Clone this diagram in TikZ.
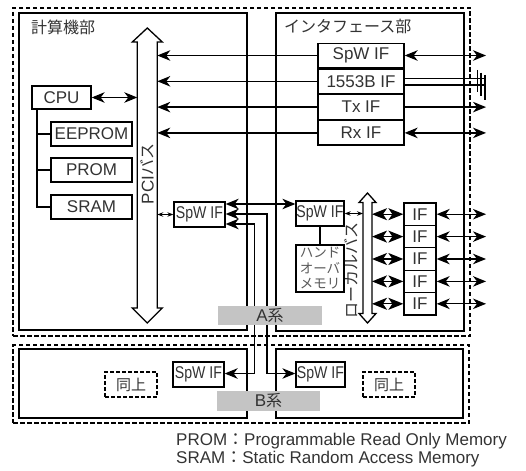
\documentclass[tikz,border=0pt]{standalone}
\usepackage{fontspec}
\usepackage{graphicx}
\setmainfont{Liberation Sans}
\newfontfamily\jp{Noto Sans CJK JP}
\usetikzlibrary{arrows.meta}
\begin{document}
\begin{tikzpicture}[x=1pt,y=-1pt,
  lw/.style={line width=1.3pt},
  box/.style={draw, line width=1.3pt, inner sep=0pt, fill=white, text=black!80, font=\fontsize{17}{19}\selectfont},
  dbox/.style={draw, line width=1.3pt, dash pattern=on 4.5pt off 2.5pt, inner sep=0pt},
  jptxt/.style={inner sep=0pt, text=black!80, font=\jp\fontsize{16}{18}\selectfont},
  tip/.style={},
  ar/.style={line width=1.3pt, -{Stealth[length=13pt,width=10.5pt,inset=4pt]}},
  ar2/.style={line width=1.3pt, {Stealth[length=13pt,width=10.5pt,inset=4pt]}-{Stealth[length=13pt,width=10.5pt,inset=4pt]}},
  sar2/.style={line width=1pt, {Stealth[length=6pt,width=4.5pt,inset=2pt]}-{Stealth[length=6pt,width=4.5pt,inset=2pt]}},
  bigar2/.style={line width=1.3pt, {Stealth[length=15pt,width=12pt,inset=4pt]}-{Stealth[length=15pt,width=12pt,inset=4pt]}},
  graybox/.style={fill=black!23, inner sep=0pt, text=black!80, font=\fontsize{17}{19}\selectfont},
  bus/.style={line width=1.3pt, fill=white}
]
\useasboundingbox (0,0) rectangle (526,470);

% dashed outer groups
\node[dbox, minimum width=457pt, minimum height=328pt] (dA) at (241.5,172) {};
\node[dbox, minimum width=456pt, minimum height=78pt] (dB) at (241,384) {};

% main boxes
\node[box, minimum width=228pt, minimum height=317pt] (comp) at (133,171.5) {};
\node[box, minimum width=188pt, minimum height=318pt] (intf) at (370,172) {};
\node[box, minimum width=228pt, minimum height=69pt] (compB) at (133,383.5) {};
\node[box, minimum width=187pt, minimum height=69pt] (intfB) at (369.5,383.5) {};
\node[jptxt, anchor=west] (t1) at (31,27) {計算機部};
\node[jptxt, anchor=west] (t2) at (284,26) {インタフェース部};

% PCI bus
\draw[bus] (147.3,28) -- (162.3,42) -- (157.3,42) -- (157.3,308) -- (162.3,308) -- (147.3,323)
  -- (132.3,308) -- (137.3,308) -- (137.3,42) -- (132.3,42) -- cycle;
\coordinate (pciL) at (137.3,0);
\coordinate (pciR) at (157.3,0);
\node[inner sep=0pt, rotate=90, text=black!80, font=\fontsize{17}{19}\selectfont] (pcilabel) at (147.3,174) {PCI{\jp\fontsize{16}{18}\selectfont バス}};

% local bus
\draw[bus] (367.5,193) -- (376,202.5) -- (372,202.5) -- (372,313.5) -- (376,313.5) -- (367.5,323)
  -- (359,313.5) -- (363,313.5) -- (363,202.5) -- (359,202.5) -- cycle;
\coordinate (lbL) at (363,0);
\coordinate (lbR) at (372,0);
\node[jptxt, rotate=90] (lblabel) at (351,270) {ローカルバス};

% computer side
\node[box, minimum width=59pt, minimum height=23pt] (cpu) at (61.5,97.5) {CPU};
\node[box, minimum width=81pt, minimum height=24pt] (eeprom) at (91.5,134) {EEPROM};
\node[box, minimum width=81pt, minimum height=24pt] (prom) at (91.5,170) {PROM};
\node[box, minimum width=81pt, minimum height=24pt] (sram) at (91.5,207) {SRAM};
\coordinate (trunk) at (37,109);
\draw[lw] (trunk) |- (sram.west);
\draw[lw] (trunk |- eeprom.west) -- (eeprom.west);
\draw[lw] (trunk |- prom.west) -- (prom.west);
\draw[ar2] (cpu.east) -- (cpu.east -| pciL);

% interface side upper boxes
\node[box, minimum width=86pt, minimum height=24.5pt] (spw) at (361,55.5) {SpW IF};
\node[box, minimum width=86pt, minimum height=24.5pt] (b1553) at (361,81.3) {1553B IF};
\node[box, minimum width=86pt, minimum height=24.5pt] (tx) at (361,107.1) {Tx IF};
\node[box, minimum width=86pt, minimum height=24.5pt] (rx) at (361,132.9) {Rx IF};
\draw[ar] (spw.west) -- (spw.west -| pciR);
\draw[ar] (b1553.west) -- (b1553.west -| pciR);
\draw[ar] (tx.west) -- (tx.west -| pciR);
\draw[ar] (rx.west) -- (rx.west -| pciR);
\coordinate (ext) at (486,0);
\draw[ar2] (spw.east) -- (spw.east -| ext);
\draw[ar] (tx.east) -- (tx.east -| ext);
\draw[ar2] (rx.east) -- (rx.east -| ext);
\coordinate (g1) at (485,78.3);
\coordinate (g2) at (485,85);
\draw[lw] (b1553.east |- g1) -- (g1);
\draw[lw] (b1553.east |- g2) -- (g2);
\draw[lw] (477.3,70) -- (477.3,92);
\draw[lw] (481,72.7) -- (481,96);
\draw[lw] (485,75) -- (485,100);

% SpW IF nodes
\node[box, minimum width=51pt, minimum height=25pt] (sA) at (199.5,214.5) {\scalebox{0.83}[1]{SpW IF}};
\node[box, minimum width=48pt, minimum height=25pt] (sAr) at (320,213.5) {\scalebox{0.83}[1]{SpW IF}};
\node[box, minimum width=48pt, minimum height=47pt, align=left, font=\jp\fontsize{13.5}{15.5}\selectfont, text=black!65] (hom) at (320,268.5) {ハンド\\オーバ\\メモリ};
\draw[lw] (sAr.south) -- (hom.north);
\draw[sar2] (pciR |- sA.west) -- (sA.west);
\draw[sar2] (sAr.east) -- (sAr.east -| lbL);

\node[box, minimum width=51pt, minimum height=25pt] (sBl) at (198.5,374.5) {\scalebox{0.83}[1]{SpW IF}};
\node[box, minimum width=49pt, minimum height=25pt] (sBr) at (320.5,374.5) {\scalebox{0.83}[1]{SpW IF}};
\node[dbox, line width=1.2pt, dash pattern=on 4pt off 2pt, minimum width=52pt, minimum height=25pt, text=black!80, font=\jp\fontsize{15}{17}\selectfont] (sameL) at (131,384.5) {同上};
\node[dbox, line width=1.2pt, dash pattern=on 4pt off 2pt, minimum width=52pt, minimum height=25pt, text=black!80, font=\jp\fontsize{15}{17}\selectfont] (sameR) at (389,384.5) {同上};

\coordinate (yTop) at (0,204);
\coordinate (yMid) at (0,214);
\coordinate (yBot) at (0,224);
\coordinate (xMid) at (267,0);
\coordinate (xBot) at (254.5,0);
\coordinate (yB) at (0,373.5);
\draw[ar2] (sA.east |- yTop) -- (sAr.west |- yTop);
\draw[ar2] (sA.east |- yMid) -- (xMid |- yMid) -- (xMid |- yB) -- (sBr.west |- yB);
\draw[ar2] (sA.east |- yBot) -- (xBot |- yBot) -- (xBot |- yB) -- (sBl.east |- yB);

% local IFs
\foreach \i/\y in {1/214.2,2/236.6,3/259,4/281.4,5/303.8} {
  \node[box, minimum width=32pt, minimum height=22.4pt] (if\i) at (420,\y) {IF};
  \draw[bigar2] (lbR |- if\i.west) -- (if\i.west);
  \draw[ar2] (if\i.east) -- (if\i.east -| ext);
}

% gray labels
\node[graybox, minimum width=104pt, minimum height=19pt] (asys) at (270,315.5) {A{\jp\fontsize{16}{18}\selectfont 系}};
\node[graybox, minimum width=103pt, minimum height=20pt] (bsys) at (268.5,401) {B{\jp\fontsize{16}{18}\selectfont 系}};

% legend
\node[anchor=west, inner sep=0pt, text=black!80, font=\fontsize{17}{19}\selectfont] (lg1) at (176,441) {PROM{\jp ：}Programmable Read Only Memory};
\node[anchor=west, inner sep=0pt, text=black!80, font=\fontsize{17}{19}\selectfont] (lg2) at (176,459.5) {SRAM{\jp ：}Static Random Access Memory};
\end{tikzpicture}
\end{document}
